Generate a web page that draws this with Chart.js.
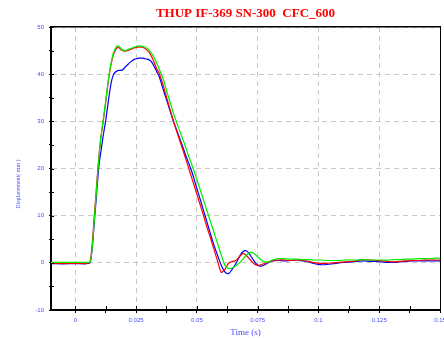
<!DOCTYPE html>
<html><head><meta charset="utf-8">
<script src="https://cdn.jsdelivr.net/npm/chart.js@4"></script>
<style>html,body{margin:0;padding:0;background:#fff}canvas{display:block}</style>
</head><body>
<canvas id="c" width="444" height="338" style="width:444px;height:338px"></canvas>
<script>
const chartTitle = 'THUP IF-369 SN-300  CFC_600';
const xTitle = 'Time (s)';
const yTitle = 'Displacement( mm )';

const xMajorTicks = [0, 0.025, 0.05, 0.075, 0.1, 0.125, 0.15];
const xTickLabels = ['0', '0.025', '0.05', '0.075', '0.1', '0.125', '0.15'];
const xMinorTicks = [0.0125, 0.0375, 0.0625, 0.0875, 0.1125, 0.1375];
const yMajorTicks = [-10, 0, 10, 20, 30, 40, 50];
const yTickLabels = ['-10', '0', '10', '20', '30', '40', '50'];
const yMinorTicks = [-5, 5, 15, 25, 35, 45];

const time = [-0.01, -0.005, 0, 0.004, 0.0058, 0.0062, 0.0066, 0.0072, 0.0078, 0.0085,
  0.0092, 0.0098, 0.0105, 0.0112, 0.0118, 0.0125, 0.0132, 0.0140, 0.0148, 0.0156,
  0.0164, 0.0172, 0.0180, 0.0188, 0.0196, 0.0205, 0.0215, 0.0225, 0.0235, 0.0245,
  0.0255, 0.0265, 0.0275, 0.0285, 0.0295, 0.0305, 0.0315, 0.0325, 0.0335, 0.0345,
  0.036, 0.0375, 0.039, 0.0405, 0.042, 0.0435, 0.045, 0.0465, 0.048, 0.0495,
  0.051, 0.0525, 0.054, 0.0555, 0.057, 0.0585, 0.060, 0.0615, 0.063, 0.0645,
  0.066, 0.0675, 0.069, 0.0705, 0.072, 0.0735, 0.075, 0.0765, 0.078, 0.0795,
  0.081, 0.0835, 0.086, 0.0885, 0.091, 0.0935, 0.096, 0.0985, 0.101, 0.1035,
  0.106, 0.1085, 0.111, 0.1135, 0.116, 0.1185, 0.121, 0.1235, 0.126, 0.1285,
  0.131, 0.1335, 0.136, 0.1385, 0.141, 0.1435, 0.146, 0.1485, 0.15];

const redValues = [-0.1, -0.1, -0.1, -0.1, 0, 0.5, 2, 5.5, 10, 14.5,
  19.5, 23, 26.5, 29, 31.3, 34, 37, 40, 42.3, 44,
  45, 45.6, 45.6, 45.2, 45.0, 44.9, 45.0, 45.2, 45.4, 45.6,
  45.7, 45.8, 45.7, 45.5, 45.1, 44.5, 43.6, 42.4, 41.1, 40.2,
  37.9, 35.2, 32.4, 29.8, 27.4, 25.1, 22.7, 20.3, 17.8, 15.4,
  12.9, 10.4, 7.8, 5.4, 2.9, 0.4, -2.0, -1.4, -0.1, 0.3,
  0.5, 1.3, 2.0, 1.5, 0.6, -0.2, -0.55, -0.4, -0.1, 0.2,
  0.4, 0.6, 0.6, 0.5, 0.6, 0.5, 0.3, 0.0, -0.1, -0.1,
  0.0, 0.1, 0.2, 0.3, 0.5, 0.7, 0.6, 0.5, 0.4, 0.3,
  0.2, 0.3, 0.4, 0.5, 0.5, 0.6, 0.6, 0.6, 0.6];

const blueValues = [-0.15, -0.2, -0.15, -0.2, -0.1, 0.2, 1.5, 4.5, 8.5, 13,
  17.5, 21, 23.5, 26, 28, 30.2, 32.8, 35.8, 38.3, 39.8,
  40.4, 40.7, 40.8, 40.8, 41.0, 41.5, 42.0, 42.5, 42.9, 43.2,
  43.3, 43.4, 43.4, 43.3, 43.2, 43.0, 42.5, 41.6, 40.5, 39.5,
  37.0, 34.6, 32.2, 29.8, 27.7, 25.6, 23.4, 21.3, 19.2, 16.6,
  14.1, 11.5, 8.9, 6.3, 3.8, 1.6, -0.5, -1.9, -2.3, -1.4,
  -0.2, 1.3, 2.4, 2.5, 1.6, 0.4, -0.5, -0.7, -0.4, 0.1,
  0.4, 0.5, 0.4, 0.5, 0.6, 0.4, 0.2, -0.2, -0.4, -0.35,
  -0.2, 0.0, 0.1, 0.2, 0.3, 0.4, 0.3, 0.3, 0.2, 0.1,
  0.1, 0.2, 0.3, 0.4, 0.4, 0.4, 0.4, 0.4, 0.4];

const greenValues = [0.1, 0.1, 0.1, 0.1, 0.1, 0.3, 1.5, 4.8, 9.2, 14,
  19, 22.8, 26.5, 29.3, 31.6, 34.3, 37.2, 40.2, 42.6, 44.4,
  45.4, 46.0, 45.9, 45.4, 45.1, 45.0, 45.2, 45.4, 45.6, 45.8,
  45.9, 46.0, 45.9, 45.8, 45.5, 45.0, 44.3, 43.4, 42.3, 41.1,
  39.2, 36.6, 34.0, 31.5, 29.3, 27.2, 25.1, 22.8, 20.7, 18.4,
  16.1, 13.7, 11.3, 8.9, 6.5, 4.1, 1.7, -0.5, -1.2, -1.1,
  -0.6, 0.0, 0.8, 1.7, 2.2, 2.0, 1.3, 0.6, 0.2, 0.2,
  0.6, 0.9, 0.9, 0.8, 0.8, 0.7, 0.7, 0.6, 0.6, 0.5,
  0.5, 0.5, 0.6, 0.6, 0.6, 0.7, 0.6, 0.6, 0.6, 0.6,
  0.7, 0.7, 0.8, 0.8, 0.9, 0.9, 0.9, 1.0, 1.0];

const labelColor = '#4b4bff';
const xAllTicks = xMajorTicks.concat(xMinorTicks).sort((a, b) => a - b);
const yAllTicks = yMajorTicks.concat(yMinorTicks).sort((a, b) => a - b);
const findIdx = (arr, v) => arr.findIndex(t => Math.abs(t - v) < 1e-9);
const pts = vals => time.map((t, i) => ({x: t, y: vals[i]}));

const extras = {
  id: 'extras',
  afterDraw(chart) {
    const {ctx, chartArea: a, scales: {x, y}} = chart;
    ctx.save();
    ctx.strokeStyle = '#000';
    ctx.lineWidth = 1;
    ctx.beginPath();
    xAllTicks.forEach(v => {
      const px = Math.round(x.getPixelForValue(v)) + 0.5;
      ctx.moveTo(px, a.bottom); ctx.lineTo(px, a.bottom - 4);
    });
    yAllTicks.forEach(v => {
      const py = Math.round(y.getPixelForValue(v)) + 0.5;
      ctx.moveTo(a.left, py); ctx.lineTo(a.left + 3, py);
    });
    ctx.stroke();
    ctx.translate(18.5, a.top + (a.bottom - a.top) * 0.555);
    ctx.rotate(-Math.PI / 2);
    ctx.fillStyle = labelColor;
    ctx.font = '6px "Liberation Serif"';
    ctx.textAlign = 'center';
    ctx.textBaseline = 'middle';
    ctx.fillText(yTitle, 0, 0);
    ctx.restore();
  }
};

const tickFont = {family: 'Liberation Sans', size: 6};
const noPad = s => { s.paddingLeft = 0; s.paddingRight = 0; s.paddingTop = 0; s.paddingBottom = 0; };

new Chart(document.getElementById('c'), {
  type: 'line',
  data: {
    datasets: [
      {label: 'green', data: pts(greenValues), borderColor: '#00ee00', borderWidth: 1.2},
      {label: 'red', data: pts(redValues), borderColor: '#ff0000', borderWidth: 1.2},
      {label: 'blue', data: pts(blueValues), borderColor: '#0000ff', borderWidth: 1.2}
    ]
  },
  options: {
    responsive: false,
    devicePixelRatio: 1,
    animation: false,
    layout: {padding: {left: 0, top: 0, bottom: 0, right: 4}, autoPadding: false},
    elements: {point: {radius: 0}, line: {tension: 0.3, fill: false}},
    plugins: {legend: {display: false}, tooltip: {enabled: false}, title: {display: false}},
    scales: {
      x: {
        type: 'linear', position: 'bottom', min: -0.01, max: 0.15,
        afterBuildTicks: s => { s.ticks = xAllTicks.map(v => ({value: v})); },
        afterFit: s => { s.height = 28; noPad(s); },
        ticks: {
          autoSkip: false, maxRotation: 0, minRotation: 0, padding: 4,
          color: labelColor, font: tickFont,
          callback: v => { const i = findIdx(xMajorTicks, v); return i >= 0 ? xTickLabels[i] : ''; }
        },
        grid: {
          color: c => (c.tick && findIdx(xMajorTicks, c.tick.value) >= 0) ? '#c8c8c8' : 'rgba(0,0,0,0)',
          tickColor: '#000', tickLength: 3, lineWidth: 1
        },
        border: {display: true, color: '#000', width: 2, dash: [5, 4]},
        title: {display: true, text: xTitle, color: labelColor, font: {family: 'Liberation Serif', size: 9}, padding: {top: 0, bottom: 0}}
      },
      y: {
        type: 'linear', position: 'left', min: -10, max: 50,
        afterBuildTicks: s => { s.ticks = yAllTicks.map(v => ({value: v})); },
        afterFit: s => { s.width = 51; noPad(s); },
        ticks: {
          autoSkip: false, padding: 5, color: labelColor, font: tickFont,
          callback: v => { const i = findIdx(yMajorTicks, v); return i >= 0 ? yTickLabels[i] : ''; }
        },
        grid: {
          color: c => (c.tick && findIdx(yMajorTicks, c.tick.value) >= 0) ? '#c8c8c8' : 'rgba(0,0,0,0)',
          tickColor: '#000', tickLength: 2, lineWidth: 1
        },
        border: {display: true, color: '#000', width: 2, dash: [5, 4]}
      },
      x2: {
        type: 'linear', position: 'top', display: true,
        afterFit: s => { s.height = 27; noPad(s); },
        ticks: {display: false},
        grid: {display: false},
        border: {display: true, color: '#000', width: 1.5},
        title: {display: true, text: chartTitle, color: '#ff0000',
          font: {family: 'Liberation Serif', size: 13, weight: 'bold'}, padding: {top: 5.5, bottom: 0}}
      },
      y2: {
        type: 'linear', position: 'right', display: true,
        afterFit: s => { s.width = 0; noPad(s); },
        ticks: {display: false},
        grid: {display: false},
        border: {display: true, color: '#000', width: 1}
      }
    }
  },
  plugins: [extras]
});
</script>
</body></html>
